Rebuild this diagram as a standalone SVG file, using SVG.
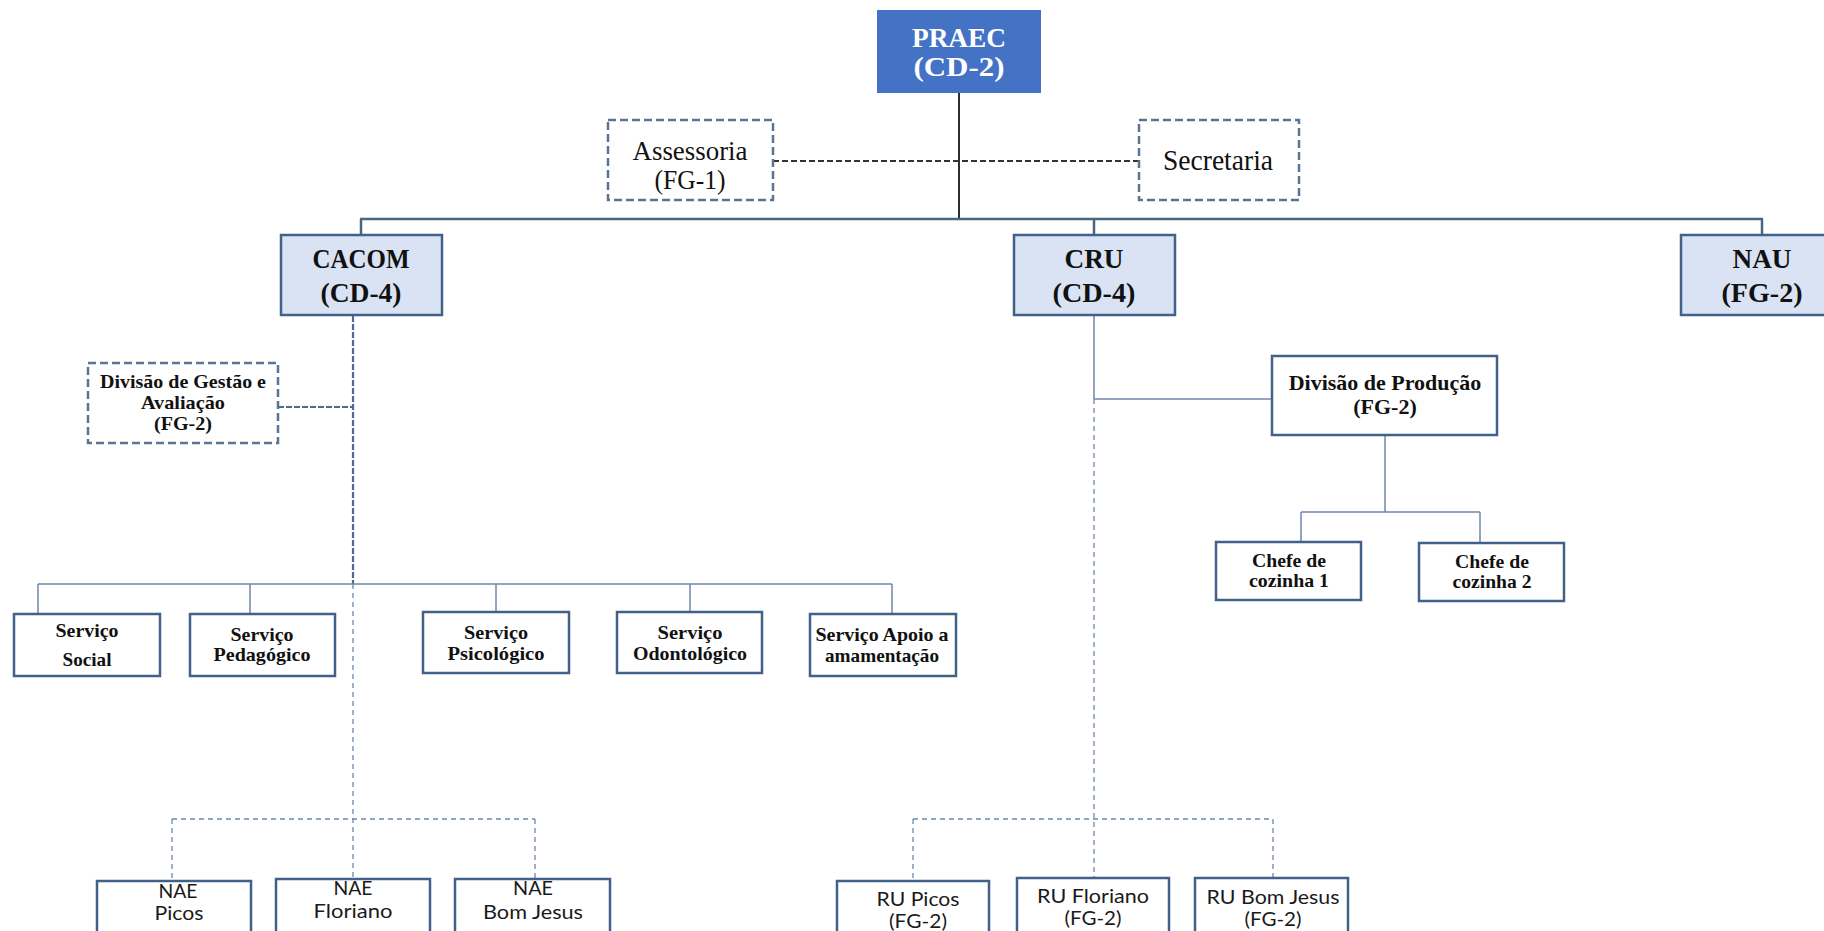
<svg xmlns="http://www.w3.org/2000/svg" width="1824" height="931" viewBox="0 0 1824 931">
<style>
.bg{fill:#ffffff}
.top{fill:#4472C4;stroke:#4472C4;stroke-width:2}
.mid{fill:#DAE3F3;stroke:#41618A;stroke-width:2.5}
.box{fill:#ffffff;stroke:#41618A;stroke-width:2.5}
.dbox{fill:#ffffff;stroke:#5A7492;stroke-width:2.5;stroke-dasharray:8 4}
.ser{font-family:"Liberation Serif","Times New Roman",serif;text-anchor:middle;fill:#111}
.b{font-weight:bold}
.w{fill:#ffffff}
.san{font-family:Lato,"Liberation Sans",sans-serif;text-anchor:middle;fill:#1a1a1a;font-size:19px}
.ln{fill:none;stroke:#6D88A8;stroke-width:1.5}
.lnd{fill:none;stroke:#4A6583;stroke-width:2.5}
.dk{fill:none;stroke:#2E2E2E;stroke-width:2}
.dkd{fill:none;stroke:#333333;stroke-width:2;stroke-dasharray:6 3}
.thd{fill:none;stroke:#6D88A8;stroke-width:1.3;stroke-dasharray:5 4}
.md{fill:none;stroke:#4A6A8F;stroke-width:2.2;stroke-dasharray:6 2}
</style>
<rect class="bg" x="0" y="0" width="1824" height="931"/>
<g id="connectors">
<line class="dk" x1="959" y1="92" x2="959" y2="219"/>
<line class="dkd" x1="773" y1="161" x2="1139" y2="161"/>
<line class="lnd" x1="360" y1="219" x2="1763" y2="219"/>
<line class="lnd" x1="361" y1="219" x2="361" y2="235"/>
<line class="lnd" x1="1094" y1="219" x2="1094" y2="235"/>
<line class="lnd" x1="1762" y1="219" x2="1762" y2="235"/>
<line class="md" x1="353" y1="316" x2="353" y2="584"/>
<line class="md" x1="278" y1="407" x2="353" y2="407"/>
<line class="thd" x1="353" y1="584" x2="353" y2="879"/>
<line class="ln" x1="38" y1="584" x2="892" y2="584"/>
<line class="ln" x1="38" y1="584" x2="38" y2="614"/>
<line class="ln" x1="250" y1="584" x2="250" y2="614"/>
<line class="ln" x1="496" y1="584" x2="496" y2="612"/>
<line class="ln" x1="690" y1="584" x2="690" y2="612"/>
<line class="ln" x1="892" y1="584" x2="892" y2="614"/>
<line class="thd" x1="172" y1="819" x2="535" y2="819"/>
<line class="thd" x1="172" y1="819" x2="172" y2="881"/>
<line class="thd" x1="535" y1="819" x2="535" y2="879"/>
<line class="ln" x1="1094" y1="316" x2="1094" y2="399"/>
<line class="ln" x1="1094" y1="399" x2="1272" y2="399"/>
<line class="thd" x1="1094" y1="399" x2="1094" y2="878"/>
<line class="ln" x1="1385" y1="435" x2="1385" y2="512"/>
<line class="ln" x1="1301" y1="512" x2="1480" y2="512"/>
<line class="ln" x1="1301" y1="512" x2="1301" y2="542"/>
<line class="ln" x1="1480" y1="512" x2="1480" y2="543"/>
<line class="thd" x1="913" y1="819" x2="1273" y2="819"/>
<line class="thd" x1="913" y1="819" x2="913" y2="881"/>
<line class="thd" x1="1273" y1="819" x2="1273" y2="878"/>
</g>
<g id="praec">
<rect class="top" x="878" y="11" width="162" height="81"/>
<text class="ser b w" x="959" y="47" font-size="28" textLength="94" lengthAdjust="spacingAndGlyphs">PRAEC</text>
<text class="ser b w" x="959" y="76" font-size="28" textLength="91" lengthAdjust="spacingAndGlyphs">(CD-2)</text>
</g>
<g id="assessoria">
<rect class="dbox" x="608" y="120" width="165" height="80"/>
<text class="ser" x="690" y="160" font-size="27" textLength="115" lengthAdjust="spacingAndGlyphs">Assessoria</text>
<text class="ser" x="690" y="189" font-size="27" textLength="71" lengthAdjust="spacingAndGlyphs">(FG-1)</text>
</g>
<g id="secretaria">
<rect class="dbox" x="1139" y="120" width="160" height="80"/>
<text class="ser" x="1218" y="170" font-size="29" textLength="110" lengthAdjust="spacingAndGlyphs">Secretaria</text>
</g>
<g id="cacom">
<rect class="mid" x="281" y="235" width="161" height="80"/>
<text class="ser b" x="361" y="268" font-size="27" textLength="97" lengthAdjust="spacingAndGlyphs">CACOM</text>
<text class="ser b" x="361" y="302" font-size="27" textLength="81" lengthAdjust="spacingAndGlyphs">(CD-4)</text>
</g>
<g id="cru">
<rect class="mid" x="1014" y="235" width="161" height="80"/>
<text class="ser b" x="1094" y="268" font-size="27" textLength="59" lengthAdjust="spacingAndGlyphs">CRU</text>
<text class="ser b" x="1094" y="302" font-size="27" textLength="83" lengthAdjust="spacingAndGlyphs">(CD-4)</text>
</g>
<g id="nau">
<rect class="mid" x="1681" y="235" width="162" height="80"/>
<text class="ser b" x="1762" y="268" font-size="27" textLength="59" lengthAdjust="spacingAndGlyphs">NAU</text>
<text class="ser b" x="1762" y="302" font-size="27" textLength="81" lengthAdjust="spacingAndGlyphs">(FG-2)</text>
</g>
<g id="divisao-gestao">
<rect class="dbox" x="88" y="363" width="190" height="80"/>
<text class="ser b" x="183" y="388" font-size="19" textLength="166" lengthAdjust="spacingAndGlyphs">Divisão de Gestão e</text>
<text class="ser b" x="183" y="409" font-size="19" textLength="84" lengthAdjust="spacingAndGlyphs">Avaliação</text>
<text class="ser b" x="183" y="430" font-size="19" textLength="58" lengthAdjust="spacingAndGlyphs">(FG-2)</text>
</g>
<g id="divisao-producao">
<rect class="box" x="1272" y="356" width="225" height="79"/>
<text class="ser b" x="1385" y="390" font-size="22">Divisão de Produção</text>
<text class="ser b" x="1385" y="414" font-size="22">(FG-2)</text>
</g>
<g id="chefe1">
<rect class="box" x="1216" y="542" width="145" height="58"/>
<text class="ser b" x="1289" y="567" font-size="19" textLength="74" lengthAdjust="spacingAndGlyphs">Chefe de</text>
<text class="ser b" x="1289" y="587" font-size="19" textLength="80" lengthAdjust="spacingAndGlyphs">cozinha 1</text>
</g>
<g id="chefe2">
<rect class="box" x="1419" y="543" width="145" height="58"/>
<text class="ser b" x="1492" y="568" font-size="19" textLength="74" lengthAdjust="spacingAndGlyphs">Chefe de</text>
<text class="ser b" x="1492" y="588" font-size="19" textLength="79" lengthAdjust="spacingAndGlyphs">cozinha 2</text>
</g>
<g id="servico-social">
<rect class="box" x="14" y="614" width="146" height="62"/>
<text class="ser b" x="87" y="637" font-size="19" textLength="63" lengthAdjust="spacingAndGlyphs">Serviço</text>
<text class="ser b" x="87" y="666" font-size="19" textLength="49" lengthAdjust="spacingAndGlyphs">Social</text>
</g>
<g id="servico-pedagogico">
<rect class="box" x="190" y="614" width="145" height="62"/>
<text class="ser b" x="262" y="641" font-size="19" textLength="63" lengthAdjust="spacingAndGlyphs">Serviço</text>
<text class="ser b" x="262" y="661" font-size="19" textLength="97" lengthAdjust="spacingAndGlyphs">Pedagógico</text>
</g>
<g id="servico-psicologico">
<rect class="box" x="423" y="612" width="146" height="61"/>
<text class="ser b" x="496" y="639" font-size="19" textLength="64" lengthAdjust="spacingAndGlyphs">Serviço</text>
<text class="ser b" x="496" y="660" font-size="19" textLength="97" lengthAdjust="spacingAndGlyphs">Psicológico</text>
</g>
<g id="servico-odontologico">
<rect class="box" x="617" y="612" width="145" height="61"/>
<text class="ser b" x="690" y="639" font-size="19" textLength="65" lengthAdjust="spacingAndGlyphs">Serviço</text>
<text class="ser b" x="690" y="660" font-size="19" textLength="114" lengthAdjust="spacingAndGlyphs">Odontológico</text>
</g>
<g id="servico-apoio">
<rect class="box" x="810" y="614" width="146" height="62"/>
<text class="ser b" x="882" y="641" font-size="19" textLength="133" lengthAdjust="spacingAndGlyphs">Serviço Apoio a</text>
<text class="ser b" x="882" y="662" font-size="19" textLength="114" lengthAdjust="spacingAndGlyphs">amamentação</text>
</g>
<g id="nae-picos">
<rect class="box" x="97" y="881" width="154" height="80"/>
<text class="san" x="178" y="898" textLength="39" lengthAdjust="spacingAndGlyphs">NAE</text>
<text class="san" x="179" y="920" textLength="49" lengthAdjust="spacingAndGlyphs">Picos</text>
</g>
<g id="nae-floriano">
<rect class="box" x="276" y="879" width="154" height="80"/>
<text class="san" x="353" y="895" textLength="39" lengthAdjust="spacingAndGlyphs">NAE</text>
<text class="san" x="353" y="918" textLength="79" lengthAdjust="spacingAndGlyphs">Floriano</text>
</g>
<g id="nae-bom-jesus">
<rect class="box" x="455" y="879" width="155" height="80"/>
<text class="san" x="533" y="895" textLength="40" lengthAdjust="spacingAndGlyphs">NAE</text>
<text class="san" x="533" y="919" textLength="100" lengthAdjust="spacingAndGlyphs">Bom Jesus</text>
</g>
<g id="ru-picos">
<rect class="box" x="837" y="881" width="152" height="80"/>
<text class="san" x="918" y="906" textLength="83" lengthAdjust="spacingAndGlyphs">RU Picos</text>
<text class="san" x="918" y="928" textLength="58" lengthAdjust="spacingAndGlyphs">(FG-2)</text>
</g>
<g id="ru-floriano">
<rect class="box" x="1017" y="878" width="152" height="80"/>
<text class="san" x="1093" y="903" textLength="112" lengthAdjust="spacingAndGlyphs">RU Floriano</text>
<text class="san" x="1093" y="925" textLength="57" lengthAdjust="spacingAndGlyphs">(FG-2)</text>
</g>
<g id="ru-bom-jesus">
<rect class="box" x="1195" y="878" width="153" height="80"/>
<text class="san" x="1273" y="904" textLength="133" lengthAdjust="spacingAndGlyphs">RU Bom Jesus</text>
<text class="san" x="1273" y="926" textLength="57" lengthAdjust="spacingAndGlyphs">(FG-2)</text>
</g>
</svg>
